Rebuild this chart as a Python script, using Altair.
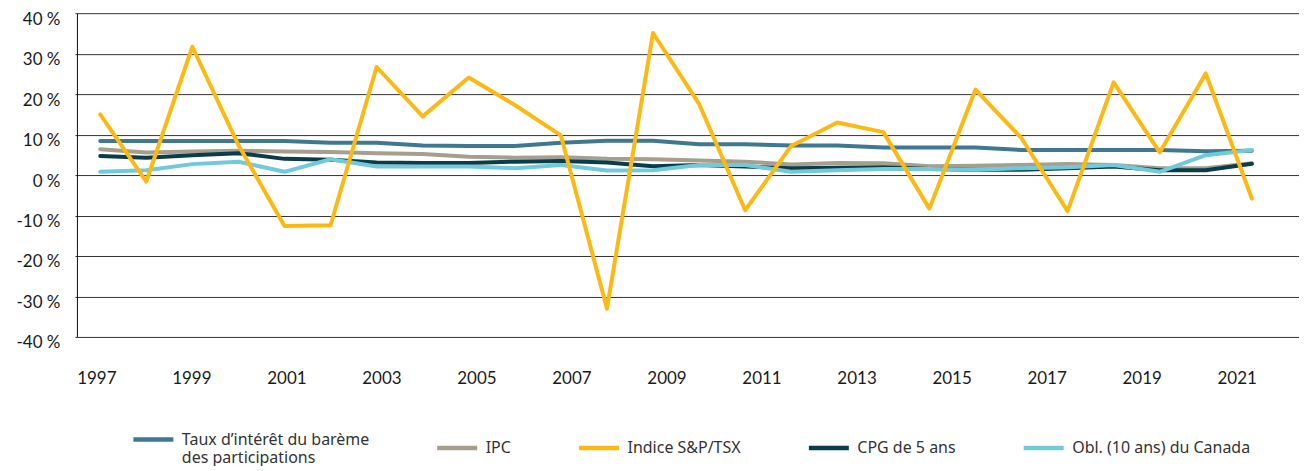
import altair as alt
import pandas as pd

years = list(range(1997, 2023))
label_years = list(range(1997, 2022, 2))

taux = [8.4, 8.4, 8.4, 8.4, 8.4, 8.0, 8.0, 7.3, 7.2, 7.2, 8.0, 8.5, 8.5,
        7.6, 7.6, 7.3, 7.3, 6.8, 6.8, 6.8, 6.2, 6.2, 6.2, 6.2, 5.9, 6.0]
ipc = [6.4, 5.6, 5.8, 6.0, 5.8, 5.7, 5.4, 5.2, 4.5, 4.3, 4.4, 4.0, 3.9,
       3.6, 3.3, 2.6, 3.0, 2.9, 2.2, 2.3, 2.5, 2.7, 2.5, 1.7, 1.7, 2.9]
tsx = [15.0, -1.6, 31.7, 7.4, -12.6, -12.4, 26.7, 14.5, 24.1, 17.3, 9.8, -33.0, 35.1,
       17.6, -8.7, 7.2, 13.0, 10.6, -8.3, 21.1, 9.1, -8.9, 22.9, 5.6, 25.1, -5.8]
cpg = [4.7, 4.3, 4.9, 5.4, 4.0, 3.8, 3.1, 3.0, 3.0, 3.3, 3.5, 3.1, 2.2,
       2.5, 2.1, 1.7, 1.8, 1.9, 1.5, 1.3, 1.3, 1.7, 2.1, 1.2, 1.2, 2.8]
obl = [0.8, 1.2, 2.7, 3.3, 0.8, 3.9, 2.1, 2.1, 2.1, 1.7, 2.5, 1.1, 1.2,
       2.5, 2.5, 0.8, 1.2, 1.5, 1.5, 1.3, 1.7, 1.9, 2.5, 0.8, 4.9, 6.2]

TAUX = "Taux d’intérêt du barème des participations"
series_names = [TAUX, "IPC", "Indice S&P/TSX", "CPG de 5 ans", "Obl. (10 ans) du Canada"]
series_values = [taux, ipc, tsx, cpg, obl]
series_colors = ["#3f7892", "#a69f8e", "#fdb913", "#0a3d4a", "#70cadb"]
draw_order = [TAUX, "IPC", "CPG de 5 ans", "Obl. (10 ans) du Canada", "Indice S&P/TSX"]

rows = []
for name, vals in zip(series_names, series_values):
    for y, v in zip(years, vals):
        rows.append({"year": y, "series": name, "value": v})
df = pd.DataFrame(rows)

AXIS_FONT = "Lato"
LEG_FONT = "Noto Sans"

color = alt.Color(
    "series:N",
    scale=alt.Scale(domain=series_names, range=series_colors),
    legend=alt.Legend(
        title=None, orient="none", legendX=54, legendY=404,
        direction="horizontal", columns=5, columnPadding=58,
        symbolType="stroke", symbolSize=1600, symbolStrokeWidth=4.5,
        labelFont=LEG_FONT, labelFontSize=16, labelColor="#333333",
        labelOffset=6, labelLimit=400, labelBaseline="middle",
        labelExpr=f"datum.label == '{TAUX}' ? ['Taux d’intérêt du barème', 'des participations'] : datum.label",
    ),
)

x_lines = alt.X("year:Q", scale=alt.Scale(domain=[1996.4946, 2023.024], nice=False, zero=False), axis=None)
y_enc = alt.Y(
    "value:Q",
    scale=alt.Scale(domain=[-40, 40], nice=False, zero=False),
    axis=alt.Axis(
        values=list(range(-40, 41, 10)), labelExpr="datum.value + ' %'",
        grid=True, gridColor="#333333", gridWidth=1,
        domain=True, domainColor="#111111", domainWidth=1,
        ticks=True, tickSize=2, tickColor="#333333",
        labelPadding=15, labelFont=AXIS_FONT, labelFontSize=17, labelColor="#1a1a1a",
        labelBaseline="top", labelOffset=-2, title=None,
    ),
)

base = alt.Chart(df)
layers = []
for name in draw_order:
    layers.append(
        base.transform_filter(alt.datum.series == name)
        .mark_line(strokeWidth=4, strokeCap="round", strokeJoin="round")
        .encode(x=x_lines, y=y_enc, color=color)
    )

labels_layer = alt.Chart(pd.DataFrame({"yr": label_years})).mark_rule(opacity=0).encode(
    x=alt.X(
        "yr:Q",
        scale=alt.Scale(domain=[1996.592, 2022.312], nice=False, zero=False),
        axis=alt.Axis(
            values=label_years, format="d", orient="bottom", grid=False, domain=False,
            ticks=False, labelPadding=34, labelFont=AXIS_FONT, labelFontSize=17,
            labelColor="#1a1a1a", labelFlush=False, labelOverlap=False, title=None,
        ),
    )
)

chart = (
    alt.layer(*layers, labels_layer)
    .resolve_scale(x="independent")
    .properties(width=1223, height=324, padding={"left": 7, "top": 2, "right": 0, "bottom": 0})
    .configure_view(stroke=None)
)

chart.save("out.html", embed_options={"renderer": "svg", "actions": False})
